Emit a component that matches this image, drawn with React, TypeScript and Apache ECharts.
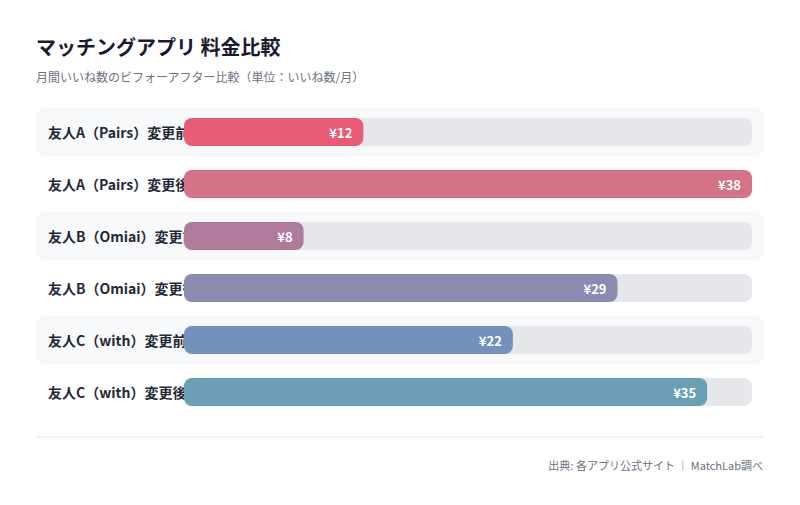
import { useRef, useEffect } from 'react';
import * as echarts from 'echarts';

const categories = [
    '友人A（Pairs）変更前',
    '友人A（Pairs）変更後',
    '友人B（Omiai）変更前',
    '友人B（Omiai）変更後',
    '友人C（with）変更前',
    '友人C（with）変更後',
];
const values = [12, 38, 8, 29, 22, 35];
const maxValue = 38;

const palette = ['#e85d75', '#d47286', '#b07a9c', '#8b8ab0', '#7291bc', '#6a9fb5'];
const FONT = '"Noto Sans CJK JP", "Noto Sans", sans-serif';

const App: React.FC = () => {
    const chartRef = useRef<HTMLDivElement>(null);

    useEffect(() => {
        if (!chartRef.current) return;
        const chart = echarts.init(chartRef.current, null, { renderer: 'svg' });

        const option: echarts.EChartsOption = {
            animation: false,
            backgroundColor: '#ffffff',
            textStyle: { fontFamily: FONT },
            title: [
                {
                    text: 'マッチングアプリ 料金比較',
                    left: 36,
                    top: 36,
                    padding: 0,
                    textStyle: { fontSize: 20, fontWeight: 'bold', color: '#1a1a2e', fontFamily: FONT },
                },
                {
                    text: '月間いいね数のビフォーアフター比較（単位：いいね数/月）',
                    left: 36,
                    top: 70,
                    padding: 0,
                    textStyle: { fontSize: 12, fontWeight: 'normal', color: '#6b7280', fontFamily: FONT },
                },
                {
                    text: '出典: 各アプリ公式サイト ｜ MatchLab調べ',
                    right: 37,
                    top: 459,
                    padding: 0,
                    textStyle: { fontSize: 11, fontWeight: 'normal', color: '#6b7280', fontFamily: FONT },
                },
            ],
            graphic: [
                {
                    type: 'line',
                    shape: { x1: 36, y1: 437, x2: 764, y2: 437 },
                    style: { stroke: '#e5e7eb', lineWidth: 1 },
                },
            ],
            grid: [
                { left: 184, right: 48, top: 106, height: 312 },
                { left: 36, right: 36, top: 106, height: 312 },
            ],
            xAxis: [
                { type: 'value', min: 0, max: maxValue, show: false, gridIndex: 0 },
                { type: 'value', min: 0, max: 1, show: false, gridIndex: 1 },
            ],
            yAxis: [
                {
                    type: 'category',
                    data: categories,
                    inverse: true,
                    gridIndex: 0,
                    z: 1,
                    axisLine: { show: false },
                    axisTick: { show: false },
                    axisLabel: {
                        align: 'left',
                        margin: 136,
                        fontSize: 14,
                        fontWeight: 'bold',
                        color: '#1f2937',
                        fontFamily: FONT,
                    },
                },
                {
                    type: 'category',
                    data: categories,
                    inverse: true,
                    gridIndex: 1,
                    show: false,
                },
            ],
            series: [
                {
                    type: 'bar',
                    xAxisIndex: 1,
                    yAxisIndex: 1,
                    silent: true,
                    z: 0,
                    barWidth: 48,
                    data: categories.map((_, i) => ({
                        value: 1,
                        itemStyle: {
                            color: i % 2 === 0 ? '#f8f9fb' : 'rgba(0,0,0,0)',
                            borderRadius: 8,
                        },
                    })),
                },
                {
                    type: 'bar',
                    xAxisIndex: 0,
                    yAxisIndex: 0,
                    z: 2,
                    barWidth: 28,
                    showBackground: true,
                    backgroundStyle: { color: '#e5e7eb', borderRadius: 8 },
                    data: values.map((v, i) => ({
                        value: v,
                        itemStyle: { color: palette[i], borderRadius: 8 },
                    })),
                    label: {
                        show: true,
                        position: 'insideRight',
                        distance: 11,
                        formatter: (p: any) => `¥${p.value}`,
                        color: '#ffffff',
                        fontSize: 13,
                        fontWeight: 'bold',
                        fontFamily: FONT,
                    },
                },
            ],
        };

        chart.setOption(option);
        return () => {
            chart.dispose();
        };
    }, []);

    return (
        <div
            ref={chartRef}
            style={{ position: 'absolute', left: 0, top: 0, width: '800px', height: '505px' }}
        />
    );
};

export default App;
